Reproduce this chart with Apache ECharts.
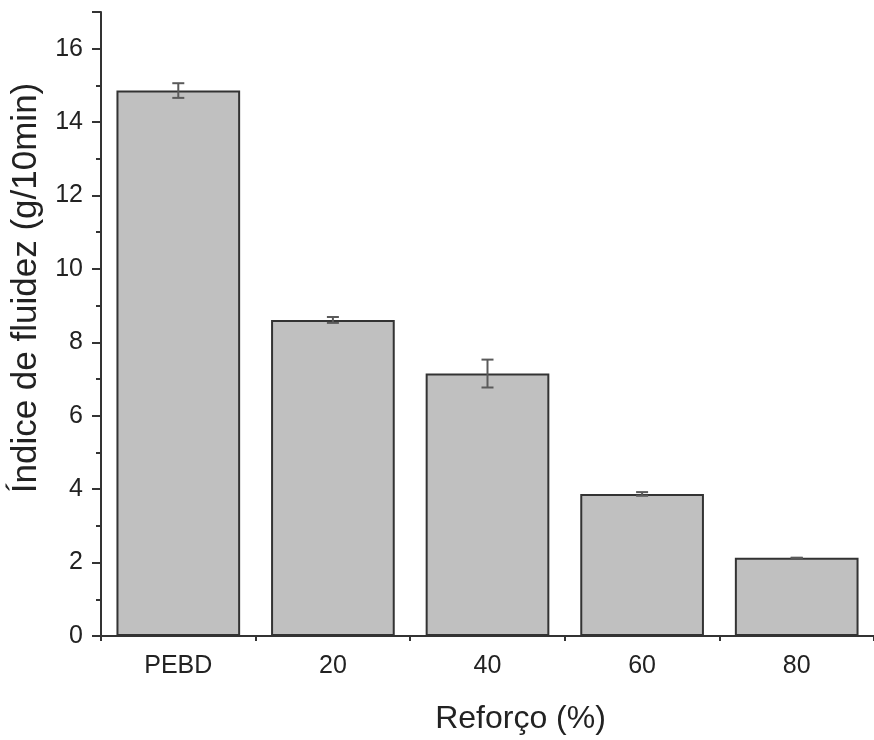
<!DOCTYPE html>
<html>
<head>
<meta charset="utf-8">
<script src="https://cdn.jsdelivr.net/npm/echarts@6/dist/echarts.min.js"></script>
<style>
  html, body { margin: 0; padding: 0; background: #fff; }
  #main { width: 874px; height: 740px; }
</style>
</head>
<body>
<div id="main"></div>
<script>
var categories = ['PEBD', '20', '40', '60', '80'];
var fluidez = [14.86, 8.61, 7.15, 3.87, 2.13];
var desvio = [0.2, 0.08, 0.38, 0.05, 0];

window.onload = function () {
    var myChart = echarts.init(document.getElementById('main'));

    var errData = categories.map(function (c, i) {
        return [i, fluidez[i] - desvio[i], fluidez[i] + desvio[i]];
    });

    var font = 'Liberation Sans, Arial, sans-serif';

    var option = {
        animation: false,
        grid: { left: 101, top: 12, bottom: 104, width: 776 },
        xAxis: [
            {
                type: 'category',
                data: categories,
                name: 'Reforço (%)',
                nameLocation: 'middle',
                nameGap: 67,
                nameTextStyle: { fontSize: 32, color: '#222', fontFamily: font, padding: [0, 0, 0, 66] },
                axisLine: { lineStyle: { color: '#333', width: 2 } },
                axisTick: { alignWithLabel: true, length: 8, lineStyle: { color: '#333', width: 2 } },
                axisLabel: { fontSize: 25, color: '#222', fontFamily: font, margin: 18 }
            },
            {
                type: 'category',
                data: categories,
                position: 'bottom',
                axisLine: { show: true, lineStyle: { opacity: 0 } },
                axisTick: { show: true, alignWithLabel: false, length: 5, lineStyle: { color: '#333', width: 2 } },
                axisLabel: { show: false }
            }
        ],
        yAxis: {
            type: 'value',
            min: 0,
            max: 17,
            interval: 2,
            name: 'Índice de fluidez (g/10min)',
            nameLocation: 'middle',
            nameGap: 55,
            nameTextStyle: { fontSize: 35, color: '#222', fontFamily: font, padding: [0, 0, 0, 72] },
            axisLine: { show: true, lineStyle: { color: '#333', width: 2 } },
            axisTick: { show: true, length: 9, lineStyle: { color: '#333', width: 2 } },
            minorTick: { show: true, splitNumber: 2, length: 5, lineStyle: { color: '#333', width: 2 } },
            splitLine: { show: false },
            axisLabel: { fontSize: 25, color: '#222', fontFamily: font, margin: 18, showMaxLabel: false }
        },
        series: [
            {
                type: 'bar',
                data: fluidez,
                barWidth: '80%',
                itemStyle: { color: '#c0c0c0', borderColor: '#333', borderWidth: 2 }
            },
            {
                type: 'custom',
                data: errData,
                z: 10,
                renderItem: function (params, api) {
                    var x = api.value(0);
                    var lo = api.coord([x, api.value(1)]);
                    var hi = api.coord([x, api.value(2)]);
                    var hw = 6;
                    var st = { stroke: '#5a5a5a', lineWidth: 2 };
                    return {
                        type: 'group',
                        children: [
                            { type: 'line', shape: { x1: lo[0], y1: lo[1], x2: hi[0], y2: hi[1] }, style: st },
                            { type: 'line', shape: { x1: lo[0] - hw, y1: lo[1], x2: lo[0] + hw, y2: lo[1] }, style: st },
                            { type: 'line', shape: { x1: hi[0] - hw, y1: hi[1], x2: hi[0] + hw, y2: hi[1] }, style: st }
                        ]
                    };
                }
            }
        ]
    };

    myChart.setOption(option);
};
</script>
</body>
</html>
